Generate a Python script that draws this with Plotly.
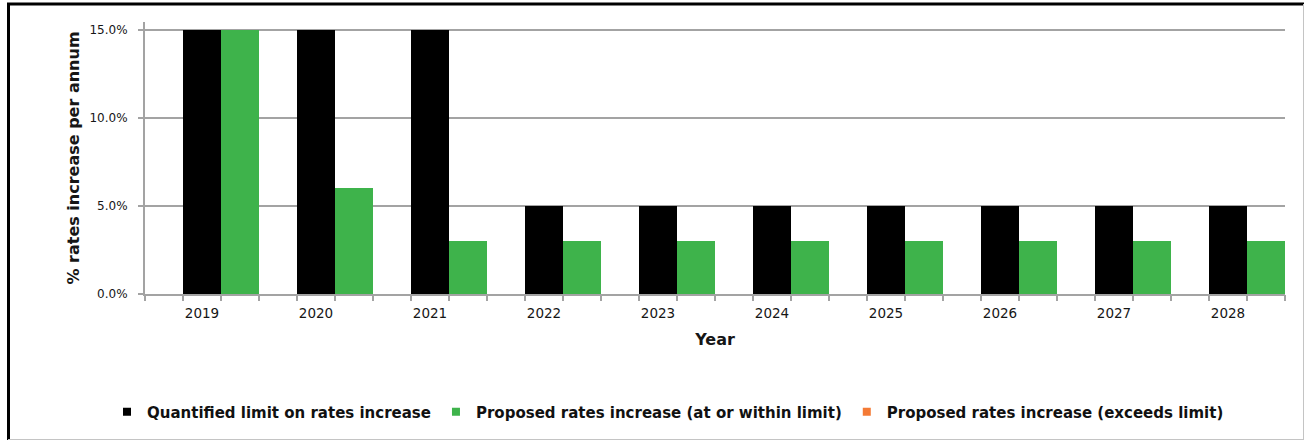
import plotly.graph_objects as go

# Data
years = ["2019", "2020", "2021", "2022", "2023", "2024", "2025", "2026", "2027", "2028"]
limit_pct = [15, 15, 15, 5, 5, 5, 5, 5, 5, 5]
proposed_within_pct = [15, 6, 3, 3, 3, 3, 3, 3, 3, 3]
proposed_exceeds_pct = [None] * 10
y_ticks = [0, 5, 10, 15]
y_tick_labels = ["0.0%", "5.0%", "10.0%", "15.0%"]

series_names = [
    "Quantified limit on rates increase",
    "Proposed rates increase (at or within limit)",
    "Proposed rates increase (exceeds limit)",
]
BLACK = "#000000"
GREEN = "#3eb34b"
ORANGE = "#f47a35"
GRID = "#a3a3a3"
TEXT = "#161616"
FONT = "DejaVu Sans"

W, H = 1306, 441
L, R, T, B = 145, 21, 22, 147
PW, PH = W - L - R, H - T - B


def px_x(x):
    return (x - L) / PW


def px_y(y):
    return (H - B - y) / PH


fig = go.Figure()

# Three slots per category: exceeds (left), limit (centre), within (right)
fig.add_trace(go.Bar(x=years, y=proposed_exceeds_pct, marker_color=ORANGE,
                     marker_line_width=0, showlegend=False, name=series_names[2]))
fig.add_trace(go.Bar(x=years, y=limit_pct, marker_color=BLACK,
                     marker_line_width=0, showlegend=False, name=series_names[0]))
fig.add_trace(go.Bar(x=years, y=proposed_within_pct, marker_color=GREEN,
                     marker_line_width=0, showlegend=False, name=series_names[1]))

# Legend entries with small square keys
for name, col in zip(series_names, [BLACK, GREEN, ORANGE]):
    fig.add_trace(go.Scatter(x=[None], y=[None], mode="markers", name=f"<b>{name}</b>",
                             marker=dict(symbol="square", size=8, color=col),
                             showlegend=True))

# Empty trace that anchors the fine-tick overlay axis
fig.add_trace(go.Scatter(x=[0, 30], y=[None, None], xaxis="x2", mode="lines",
                         showlegend=False, hoverinfo="skip"))

fig.update_layout(
    width=W, height=H,
    margin=dict(l=L, r=R, t=T, b=B, pad=0),
    paper_bgcolor="white", plot_bgcolor="white",
    barmode="group", bargap=0, bargroupgap=0,
    font=dict(family=FONT, color=TEXT),
    xaxis=dict(
        type="category", showgrid=False, ticks="",
        showline=True, linecolor=GRID, linewidth=2,
        tickfont=dict(size=13.5, color=TEXT), ticklabelstandoff=6,
        title=dict(text="<b>Year</b>", font=dict(size=16, color=TEXT), standoff=14),
    ),
    # overlay axis carrying the fine tick marks along the baseline
    xaxis2=dict(
        overlaying="x", anchor="y", side="bottom", range=[0, 30],
        tickmode="linear", tick0=0, dtick=1,
        ticks="outside", ticklen=6, tickwidth=1.5, tickcolor=GRID,
        showticklabels=False, showgrid=False, showline=False, zeroline=False,
        fixedrange=True,
    ),
    yaxis=dict(
        range=[0, 15.45], tickmode="array", tickvals=y_ticks, ticktext=y_tick_labels,
        showgrid=True, gridcolor=GRID, gridwidth=2, zeroline=False,
        showline=True, linecolor=GRID, linewidth=2,
        ticks="outside", ticklen=5, tickwidth=1.5, tickcolor=GRID,
        tickfont=dict(size=12, color=TEXT), ticklabelstandoff=8,
        title=dict(text="<b>% rates increase per annum</b>",
                   font=dict(size=16, color=TEXT), standoff=6),
    ),
    legend=dict(
        orientation="h", x=px_x(668), xanchor="center", y=px_y(412), yanchor="middle",
        font=dict(size=15, color="#111111"), itemwidth=30, tracegroupgap=0,
        bgcolor="rgba(0,0,0,0)",
    ),
    shapes=[
        dict(type="line", xref="paper", yref="paper", x0=px_x(8.5), x1=px_x(8.5),
             y0=px_y(3), y1=px_y(440), line=dict(color="black", width=3)),
        dict(type="line", xref="paper", yref="paper", x0=px_x(7), x1=px_x(1304),
             y0=px_y(4), y1=px_y(4), line=dict(color="black", width=3)),
        dict(type="line", xref="paper", yref="paper", x0=px_x(1303.5), x1=px_x(1303.5),
             y0=px_y(4), y1=px_y(440), line=dict(color="#c4c4c4", width=1)),
        dict(type="line", xref="paper", yref="paper", x0=px_x(8), x1=px_x(1304),
             y0=px_y(439.5), y1=px_y(439.5), line=dict(color="#c4c4c4", width=1)),
    ],
)

fig.write_html("out.html")
